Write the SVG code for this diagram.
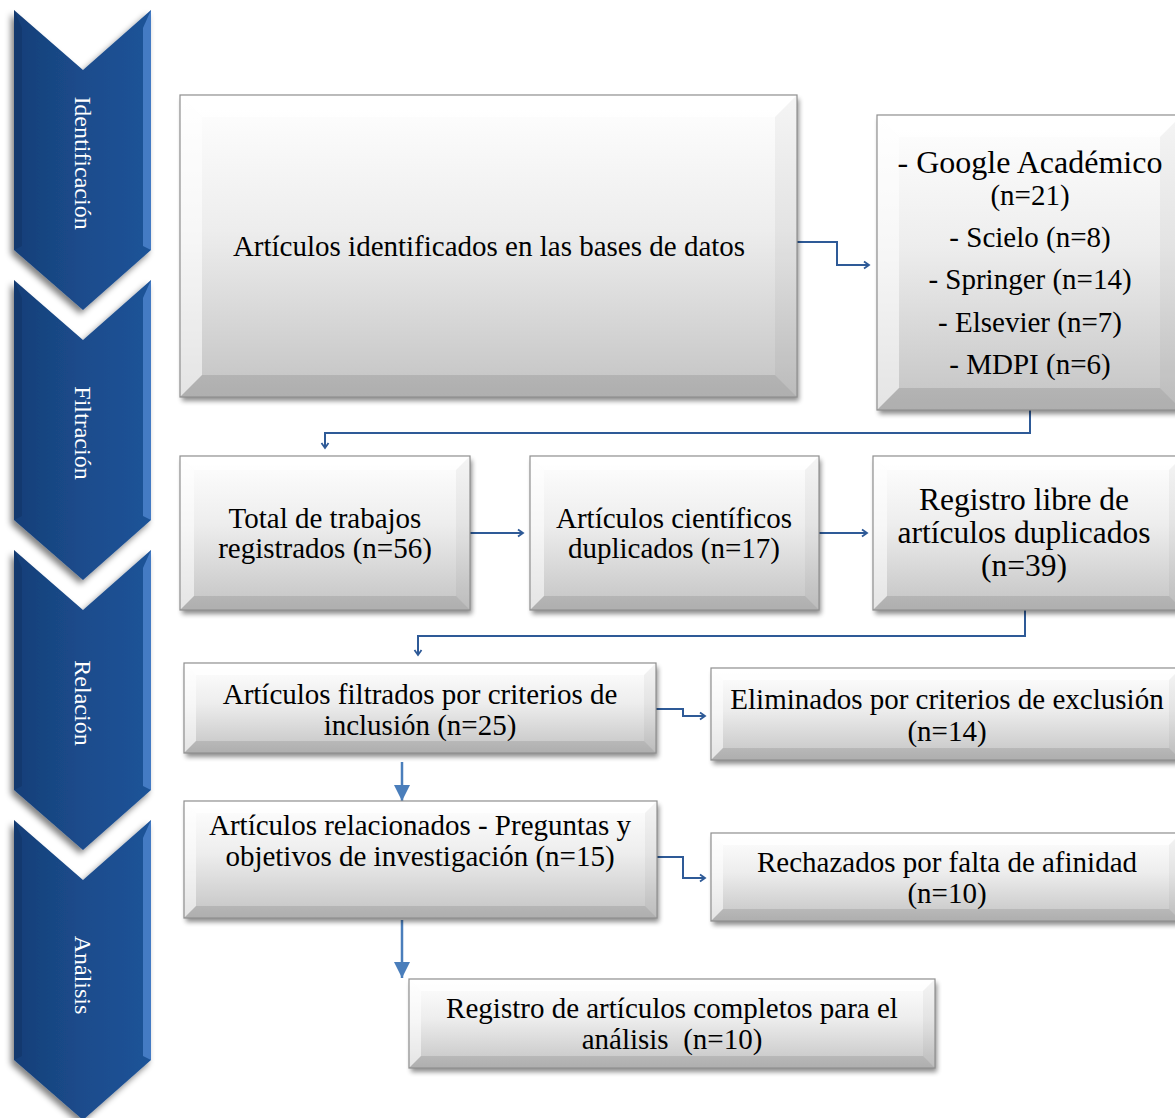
<svg xmlns="http://www.w3.org/2000/svg" width="1175" height="1118" viewBox="0 0 1175 1118">
<defs>
<linearGradient id="gface" x1="0" y1="0" x2="0" y2="1">
<stop offset="0" stop-color="#ffffff"/><stop offset="0.45" stop-color="#ededed"/><stop offset="1" stop-color="#c3c3c3"/>
</linearGradient>
<linearGradient id="gchev" x1="0" y1="0" x2="1" y2="0">
<stop offset="0" stop-color="#163f78"/><stop offset="0.5" stop-color="#1b4c8c"/><stop offset="1" stop-color="#1e5398"/>
</linearGradient>
<filter id="sh" x="-10%" y="-10%" width="125%" height="130%">
<feGaussianBlur in="SourceAlpha" stdDeviation="2.5"/><feOffset dx="2" dy="4" result="b"/>
<feComponentTransfer><feFuncA type="linear" slope="0.45"/></feComponentTransfer>
<feMerge><feMergeNode/><feMergeNode in="SourceGraphic"/></feMerge>
</filter>
<filter id="shc" x="-20%" y="-10%" width="140%" height="125%">
<feGaussianBlur in="SourceAlpha" stdDeviation="3"/><feOffset dx="-3" dy="4" result="b"/>
<feComponentTransfer><feFuncA type="linear" slope="0.5"/></feComponentTransfer>
<feMerge><feMergeNode/><feMergeNode in="SourceGraphic"/></feMerge>
</filter>
<marker id="ao" markerWidth="10" markerHeight="10" refX="8" refY="5" orient="auto" markerUnits="userSpaceOnUse">
<path d="M3,1.5 L8,5 L3,8.5" fill="none" stroke="#2e5a97" stroke-width="1.8"/>
</marker>
<marker id="af" markerWidth="18" markerHeight="16" refX="16" refY="8" orient="auto" markerUnits="userSpaceOnUse">
<path d="M0,0 L16,8 L0,16 Z" fill="#4a7ebb"/>
</marker>
</defs>
<style>
.face{fill:url(#gface);}
.bt{fill:#ffffff;fill-opacity:0.75;}
.bl{fill:#ffffff;fill-opacity:0.55;}
.br{fill:#000000;fill-opacity:0.04;}
.bb{fill:#000000;fill-opacity:0.1;}
.edge{fill:none;stroke:#8f8f8f;stroke-width:1.2;}
.t{font-family:"Liberation Serif","Times New Roman",serif;font-size:29px;fill:#000;text-anchor:middle;}
.cv{fill:url(#gchev);}
.cvl{fill:#4f86cf;fill-opacity:0.8;}
.cvd{fill:#0f3163;fill-opacity:0.5;}
.ct{font-family:"Liberation Serif","Times New Roman",serif;font-size:24px;fill:#ffffff;text-anchor:middle;}
.lk{fill:none;stroke:#2e5a97;stroke-width:2;}
.lf{fill:none;stroke:#4a7ebb;stroke-width:2.5;}
</style>

<g id="chevrons">
<g id="ch1">
<polygon class="cv" filter="url(#shc)" points="14,10 83,70 151,10 151,250 83,310 14,250"/>
<polygon class="cvl" points="151,10 151,250 143,246 143,28"/>
<polygon class="cvd" points="14,10 22,28 22,246 14,250"/>
<text class="ct" transform="translate(83,163) rotate(90)" y="8">Identificación</text>
</g>
<g id="ch2">
<polygon class="cv" filter="url(#shc)" points="14,280 83,340 151,280 151,520 83,580 14,520"/>
<polygon class="cvl" points="151,280 151,520 143,516 143,298"/>
<polygon class="cvd" points="14,280 22,298 22,516 14,520"/>
<text class="ct" transform="translate(83,433) rotate(90)" y="8">Filtración</text>
</g>
<g id="ch3">
<polygon class="cv" filter="url(#shc)" points="14,550 83,610 151,550 151,790 83,850 14,790"/>
<polygon class="cvl" points="151,550 151,790 143,786 143,568"/>
<polygon class="cvd" points="14,550 22,568 22,786 14,790"/>
<text class="ct" transform="translate(83,703) rotate(90)" y="8">Relación</text>
</g>
<g id="ch4">
<polygon class="cv" filter="url(#shc)" points="14,820 83,880 151,820 151,1060 83,1120 14,1060"/>
<polygon class="cvl" points="151,820 151,1060 143,1056 143,838"/>
<polygon class="cvd" points="14,820 22,838 22,1056 14,1060"/>
<text class="ct" transform="translate(83,975) rotate(90)" y="8">Análisis</text>
</g>
</g>

<g id="connectors">
<path class="lk" marker-end="url(#ao)" d="M797,242 H837 V265 H869"/>
<path class="lk" marker-end="url(#ao)" d="M1030,410 V433 H325 V448"/>
<path class="lk" marker-end="url(#ao)" d="M470,533 H523"/>
<path class="lk" marker-end="url(#ao)" d="M819,533 H867"/>
<path class="lk" marker-end="url(#ao)" d="M1025,610 V636 H418 V655"/>
<path class="lk" marker-end="url(#ao)" d="M656,709 H683 V716 H705"/>
<path class="lk" marker-end="url(#ao)" d="M657,857 H683 V878 H705"/>
<path class="lf" marker-end="url(#af)" d="M402,762 V801"/>
<path class="lf" marker-end="url(#af)" d="M402,920 V978"/>
</g>

<g id="n1">
<rect class="face" filter="url(#sh)" x="180" y="95" width="617" height="302"/>
<polygon class="bt" points="180,95 797,95 775,117 202,117"/>
<polygon class="bl" points="180,95 202,117 202,375 180,397"/>
<polygon class="br" points="797,95 797,397 775,375 775,117"/>
<polygon class="bb" points="180,397 797,397 775,375 202,375"/>
<rect class="edge" x="180" y="95" width="617" height="302"/>
<text class="t" x="489" y="256">Artículos identificados en las bases de datos</text>
</g>

<g id="n2">
<rect class="face" filter="url(#sh)" x="877" y="115" width="305" height="295"/>
<polygon class="bt" points="877,115 1182,115 1160,137 899,137"/>
<polygon class="bl" points="877,115 899,137 899,388 877,410"/>
<polygon class="br" points="1182,115 1182,410 1160,388 1160,137"/>
<polygon class="bb" points="877,410 1182,410 1160,388 899,388"/>
<rect class="edge" x="877" y="115" width="305" height="295"/>
<text class="t" x="1030" y="173" style="font-size:32px">- Google Académico</text>
<text class="t" x="1030" y="205">(n=21)</text>
<text class="t" x="1030" y="247">- Scielo (n=8)</text>
<text class="t" x="1030" y="289">- Springer (n=14)</text>
<text class="t" x="1030" y="332">- Elsevier (n=7)</text>
<text class="t" x="1030" y="374">- MDPI (n=6)</text>
</g>

<g id="n3">
<rect class="face" filter="url(#sh)" x="180" y="456" width="290" height="154"/>
<polygon class="bt" points="180,456 470,456 456,470 194,470"/>
<polygon class="bl" points="180,456 194,470 194,596 180,610"/>
<polygon class="br" points="470,456 470,610 456,596 456,470"/>
<polygon class="bb" points="180,610 470,610 456,596 194,596"/>
<rect class="edge" x="180" y="456" width="290" height="154"/>
<text class="t" x="325" y="528">Total de trabajos</text>
<text class="t" x="325" y="558">registrados (n=56)</text>
</g>

<g id="n4">
<rect class="face" filter="url(#sh)" x="530" y="456" width="289" height="154"/>
<polygon class="bt" points="530,456 819,456 805,470 544,470"/>
<polygon class="bl" points="530,456 544,470 544,596 530,610"/>
<polygon class="br" points="819,456 819,610 805,596 805,470"/>
<polygon class="bb" points="530,610 819,610 805,596 544,596"/>
<rect class="edge" x="530" y="456" width="289" height="154"/>
<text class="t" x="674" y="528">Artículos científicos</text>
<text class="t" x="674" y="558">duplicados (n=17)</text>
</g>

<g id="n5">
<rect class="face" filter="url(#sh)" x="873" y="456" width="310" height="154"/>
<polygon class="bt" points="873,456 1183,456 1169,470 887,470"/>
<polygon class="bl" points="873,456 887,470 887,596 873,610"/>
<polygon class="br" points="1183,456 1183,610 1169,596 1169,470"/>
<polygon class="bb" points="873,610 1183,610 1169,596 887,596"/>
<rect class="edge" x="873" y="456" width="310" height="154"/>
<text class="t" x="1024" y="510" style="font-size:31.5px">Registro libre de</text>
<text class="t" x="1024" y="543" style="font-size:31.5px">artículos duplicados</text>
<text class="t" x="1024" y="576" style="font-size:31.5px">(n=39)</text>
</g>

<g id="n6">
<rect class="face" filter="url(#sh)" x="184" y="663" width="472" height="90"/>
<polygon class="bt" points="184,663 656,663 644,675 196,675"/>
<polygon class="bl" points="184,663 196,675 196,741 184,753"/>
<polygon class="br" points="656,663 656,753 644,741 644,675"/>
<polygon class="bb" points="184,753 656,753 644,741 196,741"/>
<rect class="edge" x="184" y="663" width="472" height="90"/>
<text class="t" x="420" y="704">Artículos filtrados por criterios de</text>
<text class="t" x="420" y="735">inclusión (n=25)</text>
</g>

<g id="n7">
<rect class="face" filter="url(#sh)" x="711" y="668" width="470" height="92"/>
<polygon class="bt" points="711,668 1181,668 1169,680 723,680"/>
<polygon class="bl" points="711,668 723,680 723,748 711,760"/>
<polygon class="br" points="1181,668 1181,760 1169,748 1169,680"/>
<polygon class="bb" points="711,760 1181,760 1169,748 723,748"/>
<rect class="edge" x="711" y="668" width="470" height="92"/>
<text class="t" x="947" y="709">Eliminados por criterios de exclusión</text>
<text class="t" x="947" y="741">(n=14)</text>
</g>

<g id="n8">
<rect class="face" filter="url(#sh)" x="184" y="801" width="473" height="117"/>
<polygon class="bt" points="184,801 657,801 645,813 196,813"/>
<polygon class="bl" points="184,801 196,813 196,906 184,918"/>
<polygon class="br" points="657,801 657,918 645,906 645,813"/>
<polygon class="bb" points="184,918 657,918 645,906 196,906"/>
<rect class="edge" x="184" y="801" width="473" height="117"/>
<text class="t" x="420" y="835">Artículos relacionados - Preguntas y</text>
<text class="t" x="420" y="866">objetivos de investigación (n=15)</text>
</g>

<g id="n9">
<rect class="face" filter="url(#sh)" x="711" y="833" width="470" height="88"/>
<polygon class="bt" points="711,833 1181,833 1169,845 723,845"/>
<polygon class="bl" points="711,833 723,845 723,909 711,921"/>
<polygon class="br" points="1181,833 1181,921 1169,909 1169,845"/>
<polygon class="bb" points="711,921 1181,921 1169,909 723,909"/>
<rect class="edge" x="711" y="833" width="470" height="88"/>
<text class="t" x="947" y="872">Rechazados por falta de afinidad</text>
<text class="t" x="947" y="903">(n=10)</text>
</g>

<g id="n10">
<rect class="face" filter="url(#sh)" x="409" y="979" width="526" height="89"/>
<polygon class="bt" points="409,979 935,979 923,991 421,991"/>
<polygon class="bl" points="409,979 421,991 421,1056 409,1068"/>
<polygon class="br" points="935,979 935,1068 923,1056 923,991"/>
<polygon class="bb" points="409,1068 935,1068 923,1056 421,1056"/>
<rect class="edge" x="409" y="979" width="526" height="89"/>
<text class="t" x="672" y="1018">Registro de artículos completos para el</text>
<text class="t" x="672" y="1049" style="white-space:pre">análisis  (n=10)</text>
</g>
</svg>
